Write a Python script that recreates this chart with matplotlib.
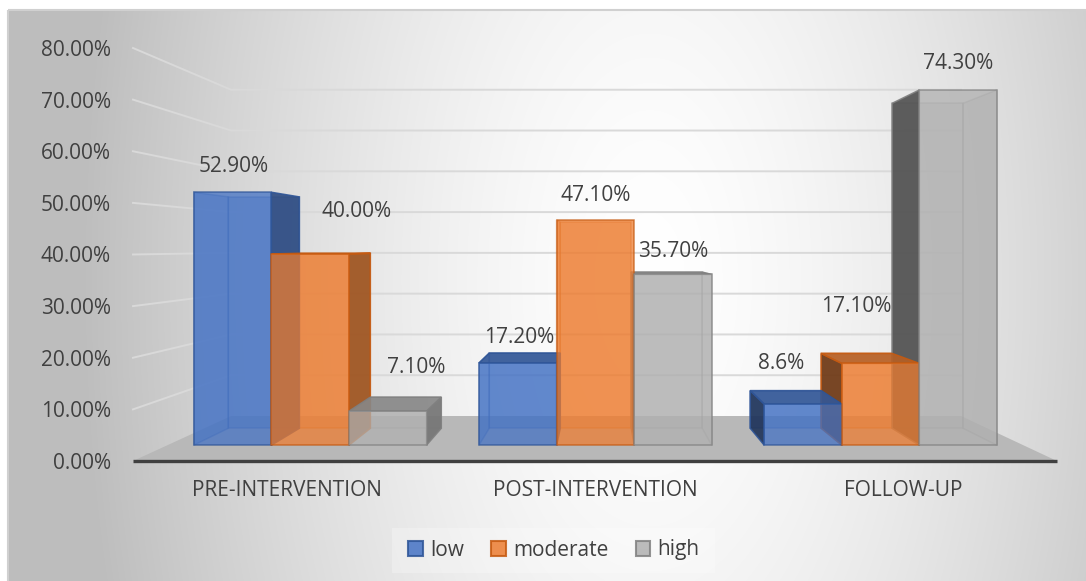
import numpy as np
import matplotlib
matplotlib.use("Agg")
import matplotlib.pyplot as plt
from matplotlib.patches import Polygon, Rectangle
from matplotlib.colors import to_rgb

# ---- data -------------------------------------------------------------
categories = ["PRE-INTERVENTION", "POST-INTERVENTION", "FOLLOW-UP"]
series_names = ["low", "moderate", "high"]
low = [52.9, 17.2, 8.6]
moderate = [40.0, 47.1, 17.1]
high = [7.1, 35.7, 74.3]
labels_low = ["52.90%", "17.20%", "8.6%"]
labels_moderate = ["40.00%", "47.10%", "17.10%"]
labels_high = ["7.10%", "35.70%", "74.30%"]
y_ticks = [0, 10, 20, 30, 40, 50, 60, 70, 80]
y_tick_labels = [f"{t:.2f}%" for t in y_ticks]

# ---- style ------------------------------------------------------------
plt.rcParams["font.family"] = ["Open Sans", "DejaVu Sans"]
TEXT = "#404040"
FACE = ["#4472C4", "#ED7D31", "#B0B0B0"]
EDGE = ["#2F5597", "#C55A11", "#808080"]
FS = 15

W, H, DPI = 1086, 581, 100
fig = plt.figure(figsize=(W / DPI, H / DPI), dpi=DPI)
fig.patch.set_facecolor("white")

# background: soft radial gray gradient with a thin border
bg = fig.add_axes([0, 0, 1, 1], zorder=0)
bg.set_xlim(0, W)
bg.set_ylim(H, 0)
bg.axis("off")
yy, xx = np.mgrid[10:H, 8:W] + 0.5
d = np.sqrt(((xx - 650) / 570.0) ** 2 + ((yy - 280) / 1100.0) ** 2)
shade_val = 1 - (66 / 255.0) * np.clip(d, 0, 1) ** 1.5
bg.imshow(np.dstack([shade_val] * 3), extent=(8, W, H, 10), aspect="auto",
          interpolation="bilinear", zorder=0)
bg.add_patch(Rectangle((8, 10), W, H, fill=False, ec="#d0d0d0", lw=1.5, zorder=1))
bg.add_patch(Rectangle((392, 528), 323, 45, fc="white", alpha=0.25, ec="none", zorder=1))

# ---- main axes (front plane of the 3-D box) ----------------------------
ax = fig.add_axes([133 / W, (H - 461) / H, 924 / W, 413 / H], zorder=2)
ax.set_xlim(-0.5, 2.5)
ax.set_ylim(0, 80)
ax.patch.set_alpha(0)
for sp in ax.spines.values():
    sp.set_visible(False)
ax.set_yticks(y_ticks, y_tick_labels)
ax.set_xticks(range(len(categories)), categories)
ax.tick_params(axis="y", length=0, pad=16, labelsize=FS, labelcolor=TEXT)
ax.tick_params(axis="x", length=0, pad=14, labelsize=FS, labelcolor=TEXT)

# perspective projection toward a vanishing point (data coordinates)
VX, VV = 1.016, 41.5
S_FRONT, S_BAR_FRONT, S_BAR_BACK, S_WALL = 1.0, 0.926, 0.847, 0.79


def proj(x, v, s):
    return (VX + (x - VX) * s, VV + (v - VV) * s)


# gridlines on side wall and back wall
for t in y_ticks[1:]:
    pts = [proj(-0.5, t, S_FRONT), proj(-0.5, t, S_WALL), proj(2.5, t, S_WALL)]
    ax.plot([p[0] for p in pts], [p[1] for p in pts], color="#d9d9d9", lw=1.4,
            zorder=1, clip_on=False, solid_joinstyle="miter")

# floor
floor = [proj(-0.5, 0, S_FRONT), proj(2.5, 0, S_FRONT),
         proj(2.5, 0, S_WALL), proj(-0.5, 0, S_WALL)]
ax.add_patch(Polygon(floor, closed=True, fc="#b8b8b8", ec="none", zorder=2, clip_on=False))
ax.plot([-0.5, 2.5], [0, 0], color="#404040", lw=2.4, solid_capstyle="butt",
        zorder=3, clip_on=False)


def dark(c, f):
    return tuple(np.array(to_rgb(c)) * f)


BW = 0.272
offsets = [-BW, 0.0, BW]
series = [low, moderate, high]
series_labels = [labels_low, labels_moderate, labels_high]
# label nudges in pixels (dx, dy) per series and category
nudges = [
    [(1, 26), (1, 25), (-22, 41)],
    [(46, 42), (0, 24), (-24, 57)],
    [(28, 44), (0, 23), (0, 26)],
]

for j, vals in enumerate(series):
    for i, v in enumerate(vals):
        x0 = i + offsets[j] - BW / 2
        x1 = x0 + BW
        f, b = S_BAR_FRONT, S_BAR_BACK
        back = [proj(x0, 0, b), proj(x1, 0, b), proj(x1, v, b), proj(x0, v, b)]
        left = [proj(x0, 0, f), proj(x0, 0, b), proj(x0, v, b), proj(x0, v, f)]
        right = [proj(x1, 0, f), proj(x1, 0, b), proj(x1, v, b), proj(x1, v, f)]
        top = [proj(x0, v, f), proj(x1, v, f), proj(x1, v, b), proj(x0, v, b)]
        front = [proj(x0, 0, f), proj(x1, 0, f), proj(x1, v, f), proj(x0, v, f)]
        kw = dict(closed=True, clip_on=False, lw=1.1, ec=EDGE[j])
        ax.add_patch(Polygon(back, fc=FACE[j], alpha=0.35, zorder=4, **kw))
        # hidden side face, seen through the translucent front
        hidden = right if x0 > VX else left
        ax.add_patch(Polygon(hidden, fc=FACE[j], alpha=0.35, zorder=4.2, **kw))
        if x0 > VX:
            ax.add_patch(Polygon(left, fc=dark(FACE[j], 0.45), alpha=0.9, zorder=5, **kw))
        if x1 < VX:
            ax.add_patch(Polygon(right, fc=dark(FACE[j], 0.66), alpha=0.9, zorder=5, **kw))
        if v < VV:
            ax.add_patch(Polygon(top, fc=dark(FACE[j], 0.77), alpha=0.9, zorder=5.5, **kw))
        ax.add_patch(Polygon(front, fc=FACE[j], alpha=0.75, zorder=6, **kw))
        dx, dy = nudges[j][i]
        ax.annotate(series_labels[j][i], xy=proj((x0 + x1) / 2, v, f), xytext=(dx, dy),
                    textcoords="offset pixels", ha="center", va="center",
                    fontsize=FS, color=TEXT, zorder=8, annotation_clip=False)

# legend
handles = [Rectangle((0, 0), 1, 1, fc=FACE[j], ec=EDGE[j], lw=1.5, alpha=0.85)
           for j in range(3)]
fig.legend(handles, series_names, loc="center", bbox_to_anchor=(554 / W, 1 - 550 / H),
           ncol=3, frameon=False, fontsize=FS, handlelength=0.7, handleheight=0.7,
           handletextpad=0.35, columnspacing=1.3, labelcolor=TEXT)

fig.savefig("out.png", dpi=DPI, facecolor="white")
